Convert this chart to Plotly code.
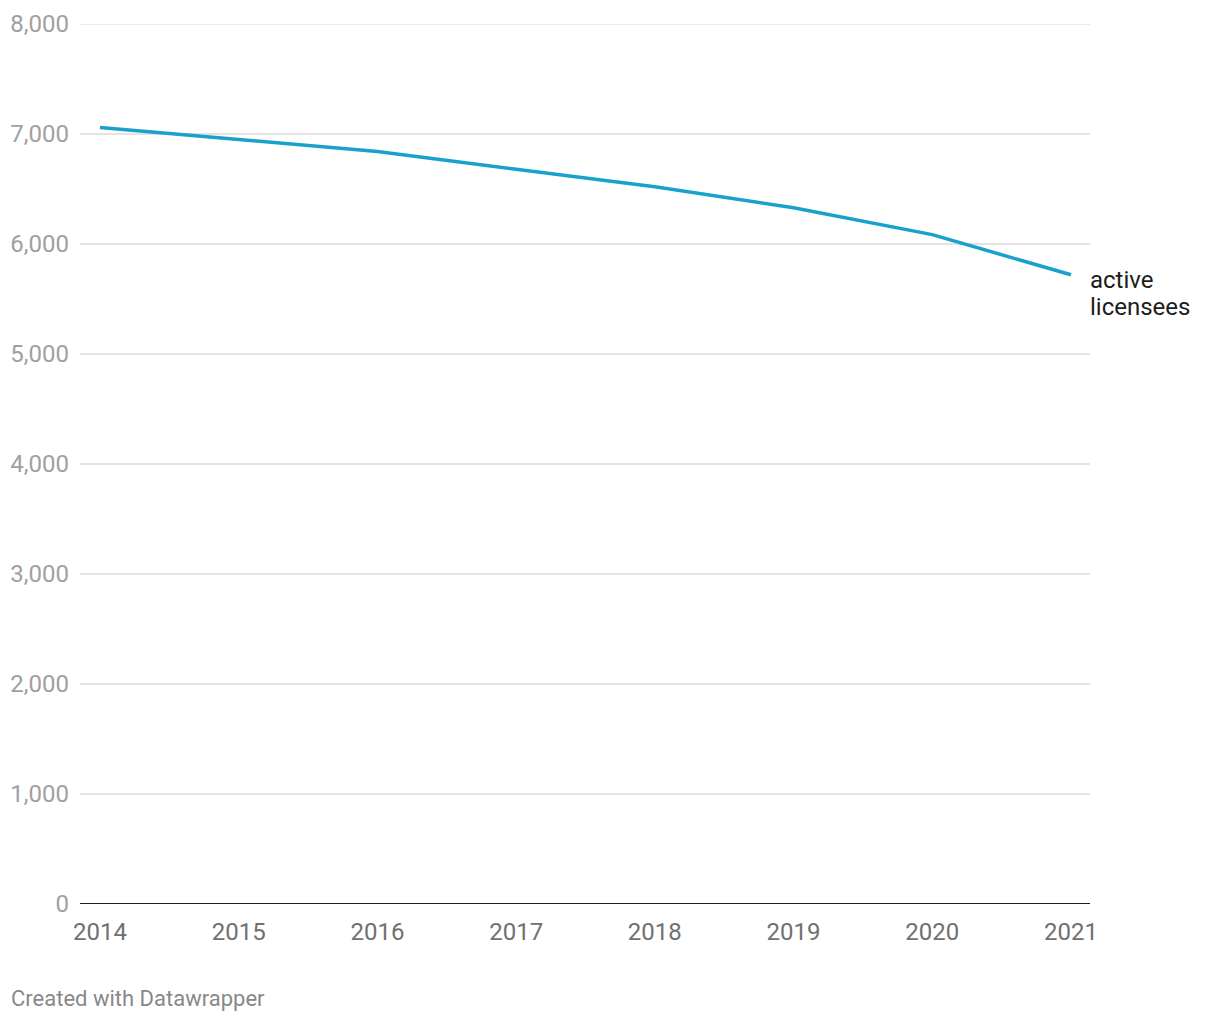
import plotly.graph_objects as go

years = [2014, 2015, 2016, 2017, 2018, 2019, 2020, 2021]
active_licensees = [7060, 6950, 6840, 6680, 6520, 6330, 6085, 5720]
y_ticks = [0, 1000, 2000, 3000, 4000, 5000, 6000, 7000, 8000]
y_tick_labels = ["0", "1,000", "2,000", "3,000", "4,000", "5,000", "6,000", "7,000", "8,000"]
series_label_lines = ["active", "licensees"]
footer = "Created with Datawrapper"

fig = go.Figure()
fig.add_trace(go.Scatter(
    x=years, y=active_licensees, mode="lines",
    line=dict(color="#18a1cd", width=3.5),
    hoverinfo="x+y", showlegend=False,
))

fig.update_layout(
    width=1220, height=1020,
    margin=dict(l=72, r=138, t=16, b=124, pad=0),
    paper_bgcolor="white", plot_bgcolor="white",
    font=dict(family="Roboto", size=22, color="#333333"),
    xaxis=dict(
        range=[2013.856, 2021.137],
        tickvals=years, ticktext=[str(y) for y in years],
        showgrid=False, zeroline=False, showline=False,
        tickfont=dict(size=24, color="#707070"),
        ticks="", ticklabelstandoff=11, automargin=False,
    ),
    yaxis=dict(
        range=[0, 8000],
        tickvals=y_ticks, ticktext=y_tick_labels,
        showgrid=True, gridcolor="#e3e3e3", gridwidth=1.5,
        zeroline=False, showline=False,
        tickfont=dict(size=24, color="#a0a0a0"),
        ticks="", ticklabelstandoff=10, automargin=False,
    ),
    shapes=[
        dict(type="line", xref="paper", yref="y", x0=0, x1=1,
             y0=y_ticks[-1], y1=y_ticks[-1], layer="below",
             line=dict(color="#e3e3e3", width=1.5)),
        dict(type="line", xref="paper", yref="y", x0=0, x1=1, y0=0, y1=0,
             line=dict(color="#1d1d1d", width=2)),
    ],
)

for i, txt in enumerate(series_label_lines):
    fig.add_annotation(
        x=1, xref="paper", xanchor="left", xshift=-2,
        y=active_licensees[-1], yref="y", yanchor="middle", yshift=-5 - 27 * i,
        text=txt, showarrow=False, align="left",
        font=dict(size=24, color="#1d1d1d", family="Roboto"),
    )
fig.add_annotation(
    x=0, xref="paper", xanchor="left", xshift=-71,
    y=0, yref="paper", yanchor="middle", yshift=-94,
    text=footer, showarrow=False,
    font=dict(size=22, color="#888888", family="Roboto"),
)

fig.write_html("out.html")
